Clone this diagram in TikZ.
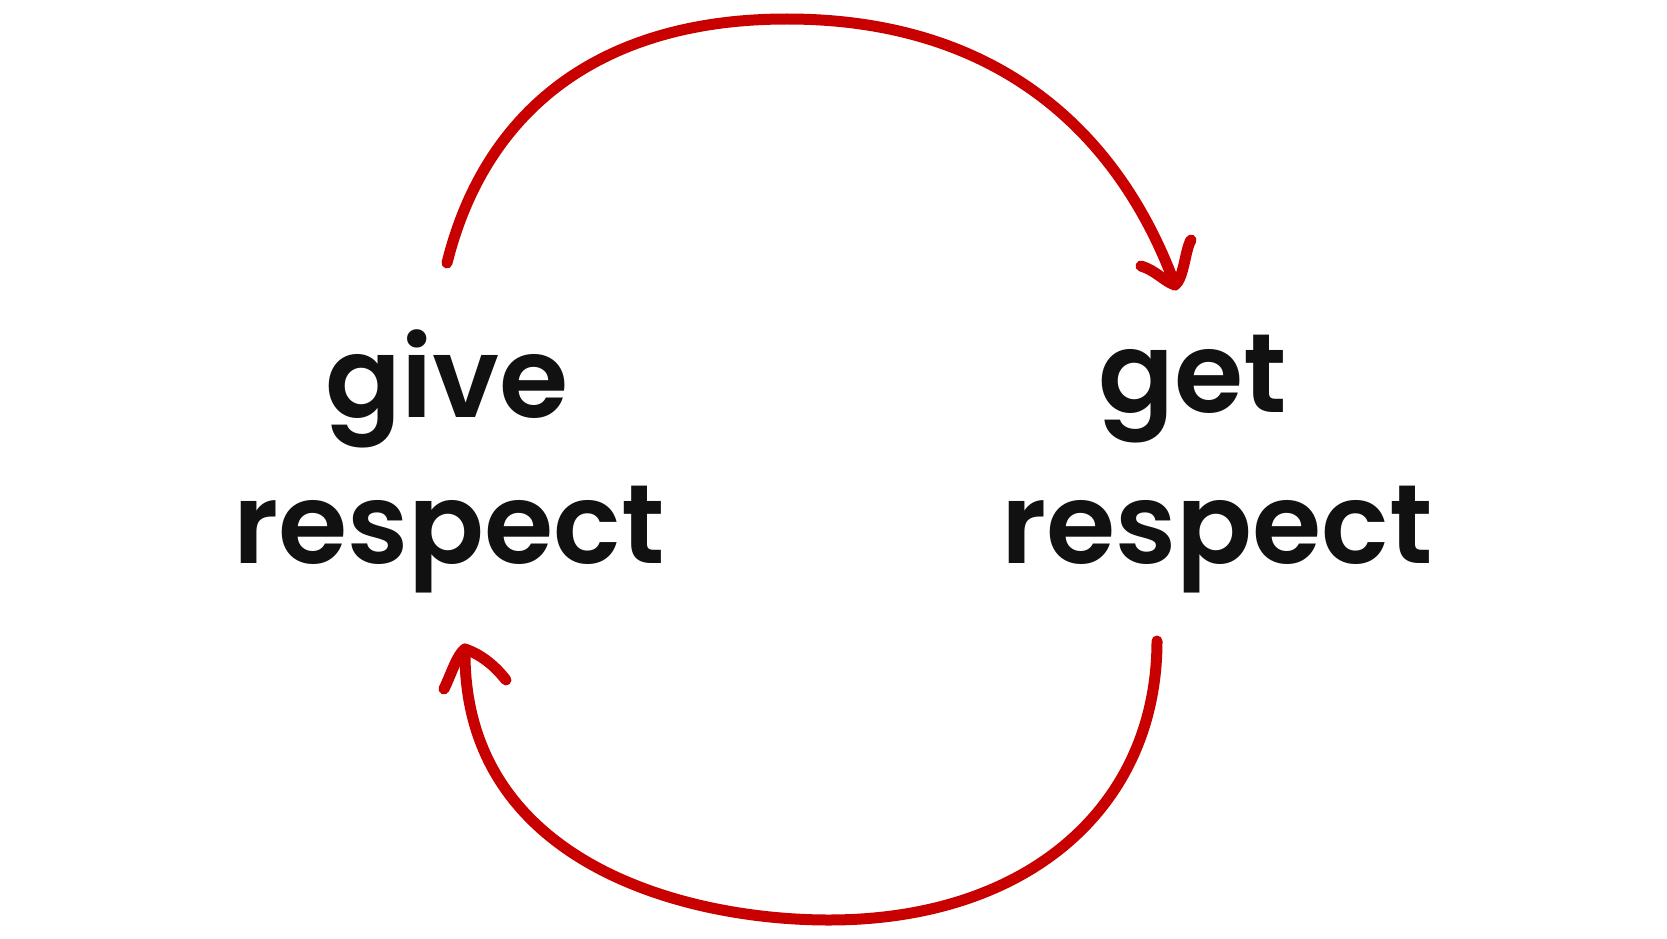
\documentclass[tikz,border=0pt]{standalone}
\usepackage{fontspec}
\newfontfamily\handfont{Poppins}[UprightFont=* SemiBold]
\definecolor{arrowred}{RGB}{200,0,0}
\definecolor{inkblack}{RGB}{17,17,17}
\tikzset{
  loopline/.style={draw=arrowred, line width=11pt, line cap=round, line join=round},
  word/.style={anchor=base, inner sep=0pt, text=inkblack, font=\handfont\fontsize{112}{112}\selectfont}
}
\begin{document}
\begin{tikzpicture}[x=1pt,y=-1pt]
\useasboundingbox[fill=white] (0,0) rectangle (1667,939);
% text nodes
\node[word] (give) at (447,417) {give};
\node[word] (respectA) at (449,563) {respect};
\node[word] (get) at (1193,412) {get};
\node[word] (respectB) at (1217,563) {respect};
% connector end points
\coordinate (topstart) at (447,263);
\coordinate (toppeak) at (787,19);
\coordinate (toptip) at (1175,285);
\coordinate (topbarbL) at (1141,266);
\coordinate (topbarbR) at (1191,240);
\coordinate (botstart) at (1157,641);
\coordinate (botlow) at (829,920);
\coordinate (bottip) at (465,649);
\coordinate (botbarbL) at (444,689);
\coordinate (botbarbR) at (506,680);
% top arc: give -> get
\draw[loopline] (topstart) .. controls (485,110) and (600,19) .. (toppeak)
  .. controls (1000,19) and (1120,135) .. (toptip);
\draw[loopline] (topbarbL) .. controls (1155,270) and (1165,282) .. (toptip)
  .. controls (1184,278) and (1185,250) .. (topbarbR);
% bottom arc: get -> give
\draw[loopline] (botstart) .. controls (1157,805) and (1030,920) .. (botlow)
  .. controls (680,920) and (462,860) .. (bottip);
\draw[loopline] (botbarbL) .. controls (452,672) and (457,655) .. (bottip)
  .. controls (482,655) and (495,666) .. (botbarbR);
\end{tikzpicture}
\end{document}
